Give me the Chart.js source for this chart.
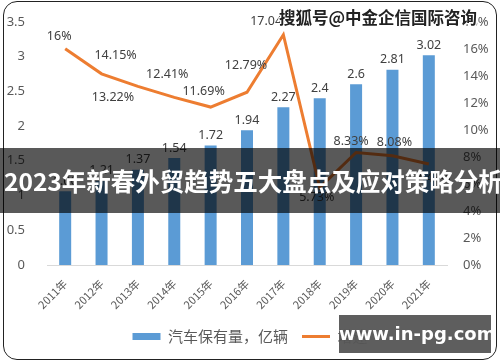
<!DOCTYPE html>
<html>
<head>
<meta charset="utf-8">
<script src="https://cdn.jsdelivr.net/npm/chart.js@4.4.1/dist/chart.umd.min.js"></script>
<style>
  html, body { margin: 0; padding: 0; background: #fff; }
  #wrap { position: relative; width: 500px; height: 362px; overflow: hidden; }
  #frame { position: absolute; left: 3px; top: 1px; width: 492px; height: 357px;
    border: 1.5px solid #222; border-radius: 14px; pointer-events: none; }
  #banner { position: absolute; left: 0; top: 148px; width: 500px; height: 65px;
    background: rgba(0,0,0,0.65); color: #fff; font: bold 24.5px "Noto Sans CJK SC", sans-serif;
    line-height: 65px; white-space: nowrap; padding-left: 4px; box-sizing: border-box; }
  #mark { position: absolute; left: 279px; top: 5px; font: bold 16.5px "Noto Sans CJK SC", sans-serif;
    color: #222; white-space: nowrap;
    text-shadow: 1px 0 #fff, -1px 0 #fff, 0 1px #fff, 0 -1px #fff, 1px 1px #fff, -1px -1px #fff, 1px -1px #fff, -1px 1px #fff; }
  #site { position: absolute; left: 339px; top: 315px; width: 152px; height: 38px;
    background: rgba(85,85,85,0.95); color: #fff; font: bold 18px "DejaVu Sans", sans-serif;
    line-height: 38px; text-align: center; white-space: nowrap; }
</style>
</head>
<body>
<div id="wrap">
  <canvas id="c" width="500" height="362"></canvas>
  <div id="frame"></div>
  <div id="mark">搜狐号@中金企信国际咨询</div>
  <div id="banner">2023年新春外贸趋势五大盘点及应对策略分析</div>
  <div id="site">www.in-pg.com</div>
</div>
<script>
const years = ["2011年","2012年","2013年","2014年","2015年","2016年","2017年","2018年","2019年","2020年","2021年"];
const stock = [1.06, 1.21, 1.37, 1.54, 1.72, 1.94, 2.27, 2.4, 2.6, 2.81, 3.02];
const growth = [16, 14.15, 13.22, 12.41, 11.69, 12.79, 17.04, 5.73, 8.33, 8.08, 7.47];
const growthText = ["16%","14.15%","13.22%","12.41%","11.69%","12.79%","17.04%","5.73%","8.33%","8.08%","7.47%"];
// label offsets (dx, dy) from each line point
const growthLabelShift = [[-6,-12],[14,-18],[-25,11],[-7,-23],[-7,-16],[-1,-27],[-12,-13],[-3,10],[-5,-11],[2,-13],[4,14]];

const labelsPlugin = {
  id: "valueLabels",
  afterDatasetsDraw(chart) {
    const { ctx } = chart;
    ctx.save();
    ctx.font = "12.5px 'Noto Sans', sans-serif";
    ctx.fillStyle = "#404040";
    ctx.textAlign = "center";
    ctx.textBaseline = "middle";

    const bars = chart.getDatasetMeta(0).data;
    bars.forEach((b, i) => {
      ctx.fillText(String(stock[i]), b.x, b.y - 10);
    });

    const pts = chart.getDatasetMeta(1).data;
    pts.forEach((p, i) => {
      const s = growthLabelShift[i];
      ctx.fillText(growthText[i], p.x + s[0], p.y + s[1]);
    });
    ctx.restore();
  }
};

new Chart(document.getElementById("c"), {
  data: {
    labels: years,
    datasets: [
      { type: "bar", label: "汽车保有量，亿辆", data: stock, yAxisID: "y", order: 1,
        backgroundColor: "#5B9BD5", barPercentage: 0.5, categoryPercentage: 0.66, pointStyle: "rect" },
      { type: "line", label: "增速", data: growth, yAxisID: "y1", order: 0,
        borderColor: "#ED7D31", backgroundColor: "#ED7D31", borderWidth: 3, pointRadius: 0,
        tension: 0, pointStyle: "line" }
    ]
  },
  options: {
    responsive: false,
    animation: false,
    layout: { padding: { top: 16, bottom: 8, left: 0, right: 0 } },
    plugins: {
      tooltip: { enabled: false },
      legend: {
        position: "bottom",
        labels: {
          usePointStyle: true, pointStyleWidth: 28, boxHeight: 7, padding: 14,
          color: "#595959", font: { size: 15, family: "'Noto Sans CJK SC', sans-serif" },
          sort: (a, b) => a.datasetIndex - b.datasetIndex
        }
      }
    },
    scales: {
      x: {
        grid: { display: false },
        border: { display: true, color: "#d9d9d9" },
        ticks: { minRotation: 45, maxRotation: 45, color: "#595959", padding: 4,
          font: { size: 11, family: "'Noto Sans CJK SC', sans-serif" } },
        afterFit(s) { s.height = 50; }
      },
      y: {
        position: "left", min: 0, max: 3.5,
        grid: { display: false }, border: { display: false },
        ticks: { stepSize: 0.5, color: "#595959", padding: 14, callback: v => String(v),
          font: { size: 13, family: "'Noto Sans', sans-serif" } },
        afterFit(s) { s.width = 47; }
      },
      y1: {
        position: "right", min: 0, max: 18,
        grid: { display: false }, border: { display: false },
        ticks: { stepSize: 2, color: "#595959", padding: 8, callback: v => v + "%",
          font: { size: 13, family: "'Noto Sans', sans-serif" } },
        afterFit(s) { s.width = 53; }
      }
    }
  },
  plugins: [labelsPlugin]
});
</script>
</body>
</html>
